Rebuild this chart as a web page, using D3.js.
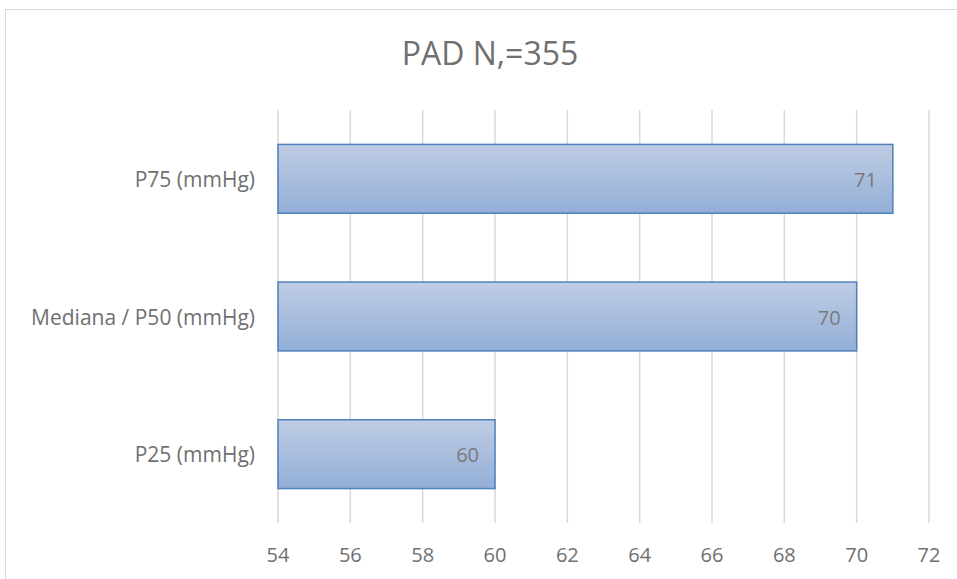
<!DOCTYPE html>
<html><head><meta charset="utf-8">
<script src="https://cdn.jsdelivr.net/npm/d3@7"></script>
<style>body{margin:0;background:#fff;} text{font-family:"Open Sans",sans-serif;}</style>
</head><body><svg id="c" width="957" height="579"></svg>
<script>
const categories = ["P75 (mmHg)", "Mediana / P50 (mmHg)", "P25 (mmHg)"];
const values = [71, 70, 60];
const xTicks = [54, 56, 58, 60, 62, 64, 66, 68, 70, 72];
const title = "PAD N,=355";

(function(){
const svg = d3.select("#c");
const defs = svg.append("defs");
const g = defs.append("linearGradient").attr("id","gr").attr("x1",0).attr("y1",0).attr("x2",0).attr("y2",1);
g.append("stop").attr("offset","0%").attr("stop-color","#bfcde4");
g.append("stop").attr("offset","100%").attr("stop-color","#93aed7");

svg.append("rect").attr("x",5.5).attr("y",9.5).attr("width",1000).attr("height",1000)
  .attr("fill","#fff").attr("stroke","#d9d9d9").attr("stroke-width",1);

const pl = 278, pr = 929, pt = 110, pb = 523;
const x = d3.scaleLinear().domain([54,72]).range([pl,pr]);
const y = d3.scaleBand().domain(categories).range([pt,pb]).paddingInner(0.5).paddingOuter(0.25);

svg.append("g").selectAll("line").data(xTicks).join("line")
  .attr("x1",d=>x(d)).attr("x2",d=>x(d)).attr("y1",pt).attr("y2",pb)
  .attr("stroke","#d9d9d9").attr("stroke-width",1.5);

svg.append("g").selectAll("text").data(xTicks).join("text")
  .attr("x",d=>x(d)).attr("y",562).attr("text-anchor","middle")
  .attr("font-size",20).attr("fill","#707070").text(d=>d);

svg.append("g").selectAll("rect").data(values).join("rect")
  .attr("x",x(54)).attr("y",(d,i)=>y(categories[i]))
  .attr("width",d=>x(d)-x(54)).attr("height",y.bandwidth())
  .attr("fill","url(#gr)").attr("stroke","#4f81bd").attr("stroke-width",1.5);

svg.append("g").selectAll("text").data(values).join("text")
  .attr("x",d=>x(d)-16).attr("y",(d,i)=>y(categories[i])+y.bandwidth()/2+8)
  .attr("text-anchor","end").attr("font-size",20).attr("fill","#7a7a7a").text(d=>d);

svg.append("g").selectAll("text").data(categories).join("text")
  .attr("x",255).attr("y",d=>y(d)+y.bandwidth()/2+8)
  .attr("text-anchor","end").attr("font-size",21).attr("fill","#707070").text(d=>d);

svg.append("text").attr("x",490).attr("y",65).attr("text-anchor","middle")
  .attr("font-size",32).attr("fill","#707070").text(title);
})();
</script></body></html>
